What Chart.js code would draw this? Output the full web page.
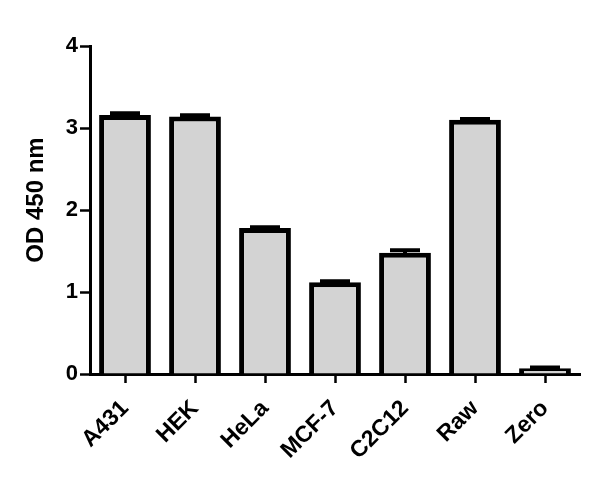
<!DOCTYPE html>
<html>
<head>
<meta charset="utf-8">
<script src="https://cdn.jsdelivr.net/npm/chart.js@4"></script>
<style>
  html, body { margin: 0; padding: 0; background: #fff; }
  #wrap { width: 600px; height: 483px; }
</style>
</head>
<body>
<div id="wrap"><canvas id="odcanvas"></canvas></div>
<script>
var cellLines = ["A431", "HEK", "HeLa", "MCF-7", "C2C12", "Raw", "Zero"];
var odValues = [3.16, 3.14, 1.78, 1.12, 1.48, 3.10, 0.07];
var odErrors = [0.02, 0.015, 0.01, 0.01, 0.03, 0.01, 0.01];
var yTicks = [0, 1, 2, 3, 4];
var yTitle = "OD 450 nm";

// draws the small SEM caps on top of each bar
var errorBars = {
	id: "errorBars",
	afterDatasetsDraw: function(chart) {
		var ctx = chart.ctx;
		var yScale = chart.scales.y;
		var meta = chart.getDatasetMeta(0);
		ctx.save();
		ctx.strokeStyle = "#000";
		ctx.lineWidth = 4;
		meta.data.forEach(function(bar, i) {
			var top = yScale.getPixelForValue(odValues[i] + odErrors[i]);
			var base = yScale.getPixelForValue(odValues[i]);
			ctx.beginPath();
			ctx.moveTo(bar.x, base + 2);
			ctx.lineTo(bar.x, top);
			ctx.moveTo(bar.x - 15, top);
			ctx.lineTo(bar.x + 15, top);
			ctx.stroke();
		});
		ctx.restore();
	}
};

// y axis title, sits a bit above the middle of the axis like the original
var axisTitle = {
	id: "axisTitle",
	afterDraw: function(chart) {
		var ctx = chart.ctx;
		ctx.save();
		ctx.translate(36, 200);
		ctx.rotate(-Math.PI / 2);
		ctx.font = "bold 24px 'Liberation Sans', Arial, sans-serif";
		ctx.fillStyle = "#000";
		ctx.textAlign = "center";
		ctx.textBaseline = "middle";
		ctx.fillText(yTitle, 0, 0);
		ctx.restore();
	}
};

window.onload = function(){
	var ctx = document.getElementById("odcanvas").getContext("2d");
	window.odChart = new Chart(ctx, {
		type: 'bar',
		data: {
			labels: cellLines,
			datasets: [{
				label: yTitle,
				data: odValues,
				backgroundColor: "#d3d3d3",
				borderColor: "#000",
				borderWidth: 5,
				barPercentage: 0.74,
				categoryPercentage: 1.0
			}]
		},
		options: {
			responsive: true,
			maintainAspectRatio: false,
			animation: false,
			layout: { padding: { top: 46, right: 20, bottom: 0, left: 0 } },
			plugins: {
				legend: { display: false },
				tooltip: { enabled: false }
			},
			scales: {
				x: {
					offset: true,
					afterFit: function(scale) { scale.height = 109; },
					border: { display: true, color: "#000", width: 3 },
					grid: {
						offset: false,
						drawOnChartArea: false,
						drawTicks: true,
						tickLength: 9,
						tickWidth: 2.5,
						tickColor: "#000"
					},
					ticks: {
						color: "#000",
						minRotation: 45,
						maxRotation: 45,
						padding: 12,
						font: { family: "'Liberation Sans', Arial, sans-serif", size: 23, weight: "bold" }
					}
				},
				y: {
					min: 0,
					max: 4,
					afterFit: function(scale) { scale.width = 90; },
					afterBuildTicks: function(scale) {
						scale.ticks = yTicks.map(function(v) { return { value: v }; });
					},
					border: { display: true, color: "#000", width: 3 },
					grid: {
						drawOnChartArea: false,
						drawTicks: true,
						tickLength: 10,
						tickWidth: 2.5,
						tickColor: "#000"
					},
					ticks: {
						color: "#000",
						padding: 2,
						font: { family: "'Liberation Sans', Arial, sans-serif", size: 22, weight: "bold" }
					}
				}
			}
		},
		plugins: [errorBars, axisTitle]
	});
}
</script>
</body>
</html>
